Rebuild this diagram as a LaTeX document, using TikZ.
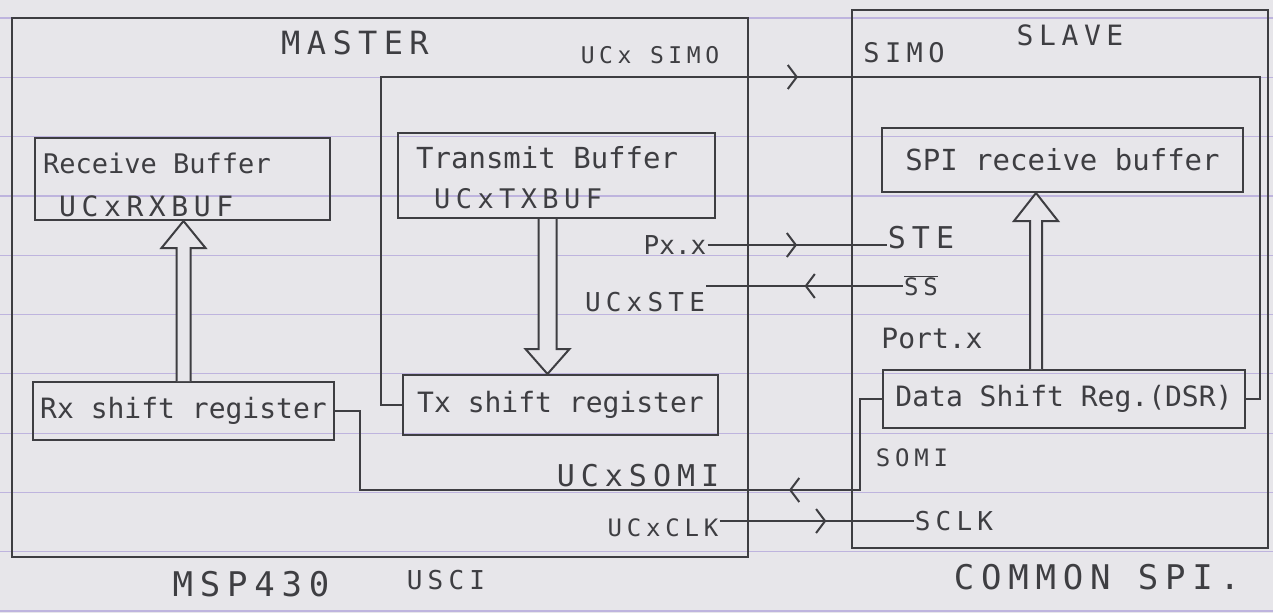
\documentclass[tikz,border=0pt]{standalone}
\usepackage{fontspec}
\usetikzlibrary{arrows.meta,decorations.markings,calc}
\newfontfamily\hand{DejaVu Sans Mono}
\newfontfamily\handw[LetterSpace=20]{DejaVu Sans Mono}
\definecolor{paper}{RGB}{231,230,234}
\definecolor{rulecol}{RGB}{190,180,222}
\definecolor{ink}{RGB}{62,62,66}
\begin{document}
\begin{tikzpicture}[x=1pt,y=-1pt,
  wire/.style={draw=ink, line width=2pt},
  box/.style={draw=ink, line width=2pt, rectangle, inner sep=0pt, text=ink},
  lbl/.style={text=ink, inner sep=1pt},
  sz/.style={font=\hand\fontsize{#1}{#1}\selectfont},
  szw/.style={font=\handw\fontsize{#1}{#1}\selectfont},
  midarrow/.style={postaction={decorate},
    decoration={markings, mark=at position #1 with {\arrow[ink]{Straight Barb[length=9pt,width=24pt,line width=2pt]}}}},
  hollow/.style={draw=ink, line width=2pt, fill=paper, line join=miter}]
% paper
\fill[paper] (0,0) rectangle (1273,613);
\useasboundingbox (0,0) rectangle (1273,613);
\foreach \k in {0,...,10} \draw[rulecol, line width=1.2pt] (0,{18+59.3*\k}) -- (1273,{18+59.3*\k});

% outer blocks
\node[box, minimum width=736pt, minimum height=539pt] (master) at (380,287.5) {};
\node[box, minimum width=416pt, minimum height=538pt] (slave) at (1060,279) {};

% inner boxes
\node[box, minimum width=295pt, minimum height=82pt] (rxbuf) at (182.5,179) {};
\node[box, minimum width=317pt, minimum height=85pt] (txbuf) at (556.5,175.5) {};
\node[box, minimum width=361pt, minimum height=64pt, sz=29] (spibuf) at (1062.5,160) {SPI receive buffer};
\node[box, minimum width=301pt, minimum height=58pt, sz=28] (rxsr) at (183.5,411) {Rx shift register};
\node[box, minimum width=315pt, minimum height=60pt, sz=28] (txsr) at (560.5,405) {Tx shift register};
\node[box, minimum width=362pt, minimum height=58pt, sz=28] (dsr) at (1064,399) {Data Shift Reg.(DSR)};

% box texts
\node[lbl, sz=27, anchor=west] (rxbuft1) at (42,163) {Receive Buffer};
\node[lbl, szw=28, anchor=west] (rxbuft2) at (58,206) {UCxRXBUF};
\node[lbl, sz=29, anchor=west] (txbuft1) at (415,158) {Transmit Buffer};
\node[lbl, szw=27, anchor=west] (txbuft2) at (433,199) {UCxTXBUF};

% titles
\node[lbl, szw=32] (tmaster) at (355,43) {MASTER};
\node[lbl, szw=23] (tucxsimo) at (650,55) {UCx SIMO};
\node[lbl, szw=27] (tsimo) at (904,53) {SIMO};
\node[lbl, szw=28] (tslave) at (1070,35) {SLAVE};
\node[lbl, szw=34] (tmsp) at (251,584) {MSP430};
\node[lbl, szw=26] (tusci) at (446,580) {USCI};
\node[lbl, szw=34] (tcommon) at (1097,577) {COMMON SPI.};

% hollow data-transfer arrows
\draw[hollow] let \p1=(rxsr.north), \p2=(rxbuf.south) in
  (\x1-7pt,\y1) -- (\x1-7pt,\y2-27pt) -- (\x1-22pt,\y2-27pt) -- (\x1,\y2)
  -- (\x1+22pt,\y2-27pt) -- (\x1+7pt,\y2-27pt) -- (\x1+7pt,\y1);
\draw[hollow] let \p1=($(txbuf.south)+(-9,0)$), \p2=(txsr.north) in
  (\x1-9pt,\y1) -- (\x1-9pt,\y2+25pt) -- (\x1-22pt,\y2+25pt) -- (\x1,\y2)
  -- (\x1+22pt,\y2+25pt) -- (\x1+9pt,\y2+25pt) -- (\x1+9pt,\y1);
\draw[hollow] let \p1=($(dsr.north)+(-28,0)$), \p2=(spibuf.south) in
  (\x1-6pt,\y1) -- (\x1-6pt,\y2-28pt) -- (\x1-22pt,\y2-28pt) -- (\x1,\y2)
  -- (\x1+22pt,\y2-28pt) -- (\x1+6pt,\y2-28pt) -- (\x1+6pt,\y1);

% SIMO line
\coordinate (simoL) at (381,77);
\coordinate (simoR) at (1260,77);
\draw[wire, midarrow=766pt] (txsr.west) -| (simoL) -- (simoR) |- (dsr.east);

% STE
\node[lbl, sz=26] (pxx) at (675,245) {Px.x};
\node[lbl, szw=30] (ste) at (921,238) {STE};
\draw[wire, midarrow=0.5] (pxx.east) -- (pxx.east -| ste.west);

% SS
\node[lbl, szw=24] (ss) at (921,286) {$\overline{\mbox{SS}}$};
\node[lbl, szw=26] (ucxste) at (645,302) {UCxSTE};
\draw[wire, midarrow=0.5] (ss.west) -- (ss.west -| ucxste.east);

\node[lbl, sz=28] (port) at (932,338) {Port.x};

% SOMI
\coordinate (somiR) at (860,490);
\coordinate (somiL) at (360,490);
\draw[wire, midarrow=184pt] (dsr.west) -| (somiR) -- (somiL) |- (rxsr.east);
\node[lbl, szw=30] (ucxsomi) at (638,476) {UCxSOMI};
\node[lbl, szw=24] (somi) at (912,458) {SOMI};

% CLK
\node[lbl, szw=24] (ucxclk) at (663,528) {UCxCLK};
\node[lbl, szw=26] (sclk) at (954,521) {SCLK};
\draw[wire, midarrow=0.55] (sclk.west -| ucxclk.east) -- (sclk.west);
\end{tikzpicture}
\end{document}
